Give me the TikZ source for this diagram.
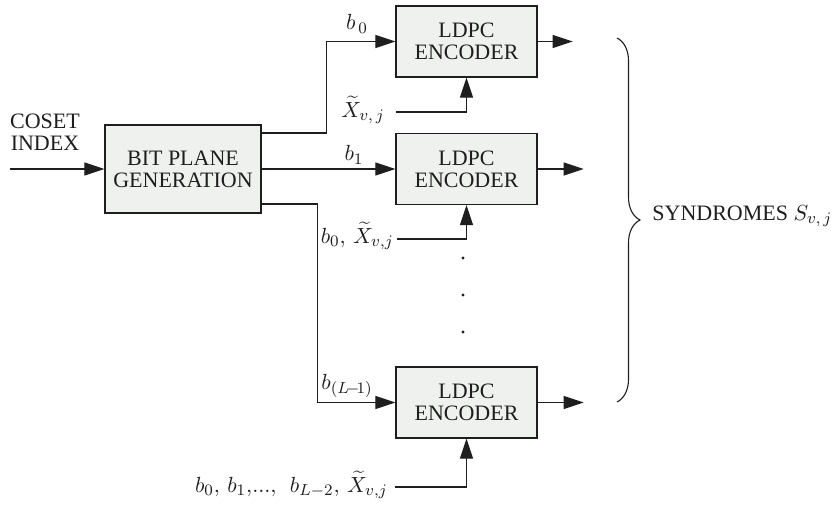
\documentclass[tikz,border=0pt]{standalone}
\usepackage{fontspec}
\setmainfont{Liberation Serif}
\usetikzlibrary{arrows.meta,positioning,decorations.pathreplacing}
\definecolor{boxfill}{HTML}{EFF1EF}
\definecolor{linegray}{HTML}{1E1E1E}
\tikzset{
  lbl/.style={font=\fontsize{11}{11}\selectfont, text=linegray, inner sep=1pt},
  encbox/.style={lbl, draw=linegray, fill=boxfill, line width=0.6pt, align=center,
    minimum width=70.5pt, minimum height=35.5pt},
  sig/.style={line width=0.55pt, draw=linegray},
  sigarrow/.style={sig, -{Triangle[length=10pt,width=6.5pt]}}
}

\begin{document}
\begin{tikzpicture}[x=0.5pt,y=-0.5pt]
  \useasboundingbox (0,0) rectangle (836,504);

  % blocks
  \node[encbox, minimum width=78pt, minimum height=44pt] (bpg) at (183,169) {BIT PLANE\\GENERATION};
  \node[encbox] (enc0) at (466.5,41.5) {LDPC\\ENCODER};
  \node[encbox] (enc1) at (466.5,169) {LDPC\\ENCODER};
  \node[encbox] (encL) at (466.5,402.5) {LDPC\\ENCODER};

  % coset index into bit planes
  \coordinate (cin) at (10,169);
  \node[lbl, align=center] (coset) at (45,132.5) {COSET\\INDEX};
  \draw[sigarrow] (cin) -- (bpg.west);

  % bit planes to the encoders
  \draw[sigarrow] ([yshift=18pt]bpg.east) -- ++(65,0) |- (enc0.west);
  \draw[sigarrow] (bpg.east) -- (enc1.west);
  \draw[sigarrow] ([yshift=-17.5pt]bpg.east) -- ++(56,0) |- (encL.west);
  \node[lbl] (b0) at (357,24) {$b_{\,0}$};
  \node[lbl] (b1) at (354,155) {$b_1$};
  \node[lbl] (bL) at (347,386) {$b_{(L\!-\!1)}$};

  % side information
  \coordinate (s0) at (396,112);
  \coordinate (s1) at (397,239);
  \coordinate (sL) at (395,487);
  \node[lbl, anchor=east] (s0lab) at (387,110) {$\widetilde{X}_{v,\,j}$};
  \node[lbl, anchor=east] (s1lab) at (396,236) {$b_0,\,\widetilde{X}_{v,j}$};
  \node[lbl, anchor=east] (sLlab) at (390,485) {$b_0,\,b_1,\!...,\;\, b_{L-2},\,\widetilde{X}_{v,j}$};
  \draw[sigarrow] (s0) -| (enc0.south);
  \draw[sigarrow] (s1) -| (enc1.south);
  \draw[sigarrow] (sL) -| (encL.south);

  % vertical dots
  \foreach \y in {258,295,332}
    \node[circle, fill=linegray, inner sep=0pt, minimum size=1.7pt] (dot\y) at (463,\y) {};

  % syndromes out
  \draw[sigarrow] (enc0.east) -- ++(35,0);
  \draw[sigarrow] (enc1.east) -- ++(46,0);
  \draw[sigarrow] (encL.east) -- ++(46,0);
  \draw[sig, decorate, decoration={brace, amplitude=11.5pt}] (617,38) -- (617,402);
  \node[lbl, anchor=west] (synd) at (650,216) {SYNDROMES\ $S_{v,\,j}$};
\end{tikzpicture}
\end{document}
